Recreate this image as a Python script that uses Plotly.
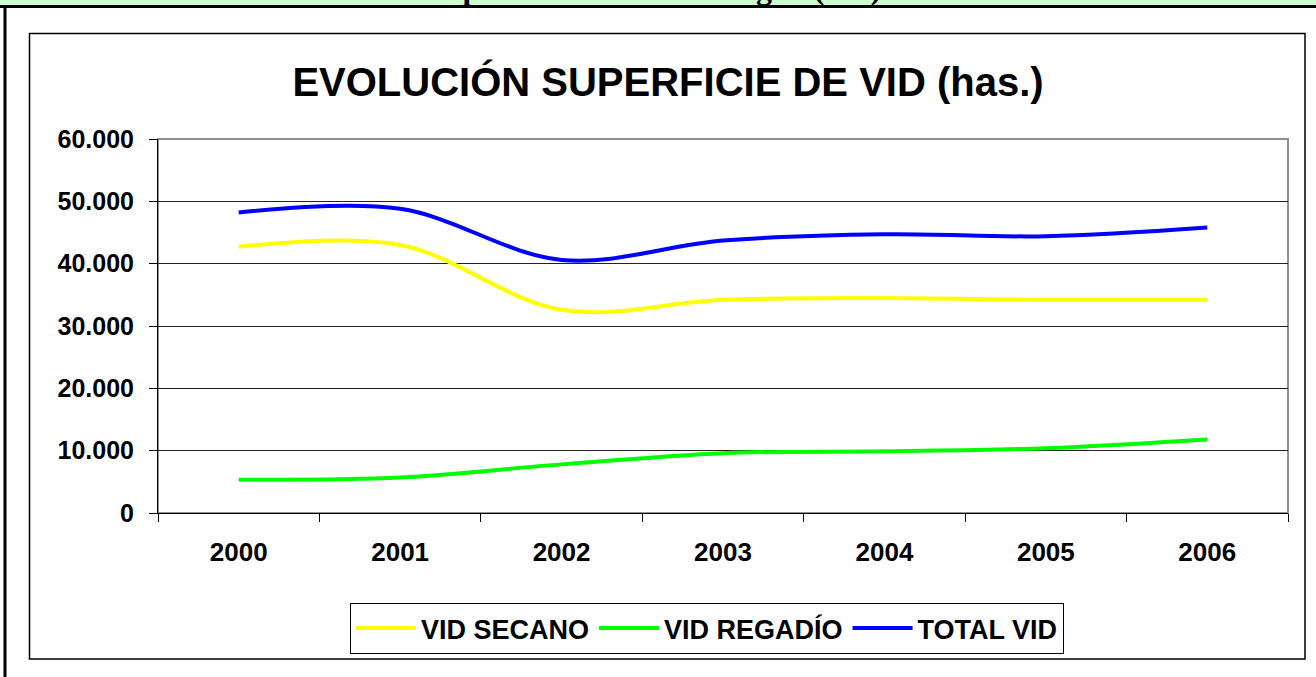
import plotly.graph_objects as go

# ---- data ----
years = ["2000", "2001", "2002", "2003", "2004", "2005", "2006"]
vid_secano = [42700, 43000, 32600, 34200, 34500, 34200, 34200]
vid_regadio = [5350, 5700, 7800, 9600, 9900, 10400, 11800]
total_vid = [48200, 48800, 40600, 43700, 44700, 44400, 45800]
series_names = ["VID SECANO", "VID REGADÍO", "TOTAL VID"]
series_colors = ["#FFFF00", "#00FF00", "#0000FF"]
chart_title = "EVOLUCIÓN SUPERFICIE DE VID (has.)"
page_title = "Superficie de vid en Aragón (has)"

W, H = 1316, 677
PL, PR, PT, PB = 158, 1288, 139, 513  # plot area in pixels


def px(x):
    return (x - PL) / (PR - PL)


def py(y):
    return (PB - y) / (PB - PT)


fig = go.Figure()
for name, vals, col in zip(series_names, [vid_secano, vid_regadio, total_vid], series_colors):
    fig.add_trace(go.Scatter(
        x=years, y=vals, name=name, mode="lines",
        line=dict(color=col, width=4, shape="spline", smoothing=1.0),
    ))

FONT = "Liberation Sans, Arial, sans-serif"

fig.update_layout(
    width=W, height=H, autosize=False,
    margin=dict(l=PL, r=W - PR, t=PT, b=H - PB, pad=0),
    paper_bgcolor="white", plot_bgcolor="white",
    separators=",.",
    font=dict(family=FONT, color="black"),
    title=dict(
        text=chart_title, x=668 / W, y=1 - 82 / H, xref="container", yref="container",
        xanchor="center", yanchor="middle",
        font=dict(family=FONT, size=40, weight="bold", color="black"),
    ),
    showlegend=True,
    legend=dict(
        orientation="h", xref="container", yref="container",
        x=350 / W, y=1 - 603 / H, xanchor="left", yanchor="top",
        bgcolor="white", bordercolor="black", borderwidth=1,
        font=dict(family=FONT, size=27, weight="bold", color="black"),
        itemwidth=60, tracegroupgap=0,
    ),
    xaxis=dict(
        type="category", range=[-0.5, 6.5], tickson="boundaries",
        ticks="outside", ticklen=8, tickcolor="black", tickwidth=1,
        showline=True, linecolor="black", linewidth=1, showgrid=False, zeroline=False,
        tickfont=dict(family=FONT, size=26, weight="bold", color="black"),
        ticklabelstandoff=16, fixedrange=True,
    ),
    yaxis=dict(
        range=[0, 60000], dtick=10000, tickformat=",d",
        ticks="outside", ticklen=8, tickcolor="black", tickwidth=1,
        showline=True, linecolor="black", linewidth=1,
        showgrid=True, gridcolor="#222222", gridwidth=1, zeroline=False,
        tickfont=dict(family=FONT, size=25, weight="bold", color="black"),
        ticklabelstandoff=10, fixedrange=True,
    ),
)

shapes = [
    # green band at top of page
    dict(type="rect", xref="paper", yref="paper", x0=px(0), x1=px(W), y0=py(0), y1=py(5.5),
         fillcolor="#CCFFCC", line=dict(width=0), layer="below"),
    # thick black line under band
    dict(type="line", xref="paper", yref="paper", x0=px(0), x1=px(W), y0=py(6.5), y1=py(6.5),
         line=dict(color="black", width=3)),
    # outer left border
    dict(type="line", xref="paper", yref="paper", x0=px(5), x1=px(5), y0=py(6), y1=py(H),
         line=dict(color="black", width=3)),
    # inner chart box
    dict(type="rect", xref="paper", yref="paper", x0=px(29.5), x1=px(1305), y0=py(659), y1=py(33.5),
         line=dict(color="black", width=1.5), fillcolor="rgba(0,0,0,0)", layer="below"),
    # plot area border (gray)
    dict(type="rect", xref="paper", yref="paper", x0=0, x1=1, y0=0, y1=1,
         line=dict(color="#909090", width=2), fillcolor="rgba(0,0,0,0)", layer="below"),
]
fig.update_layout(shapes=shapes)

# page heading, mostly cut off at the top of the picture (as in the reference)
fig.add_annotation(
    text=page_title, xref="paper", yref="paper", x=px(654), y=py(7),
    xanchor="center", yanchor="bottom", showarrow=False, borderpad=0,
    font=dict(family="Liberation Serif, Times New Roman, serif", size=32, weight="bold", color="black"),
)

fig.write_html(
    "out.html",
    config={"displayModeBar": False},
    post_script="document.body.style.margin='0';document.body.style.overflow='hidden';",
)
